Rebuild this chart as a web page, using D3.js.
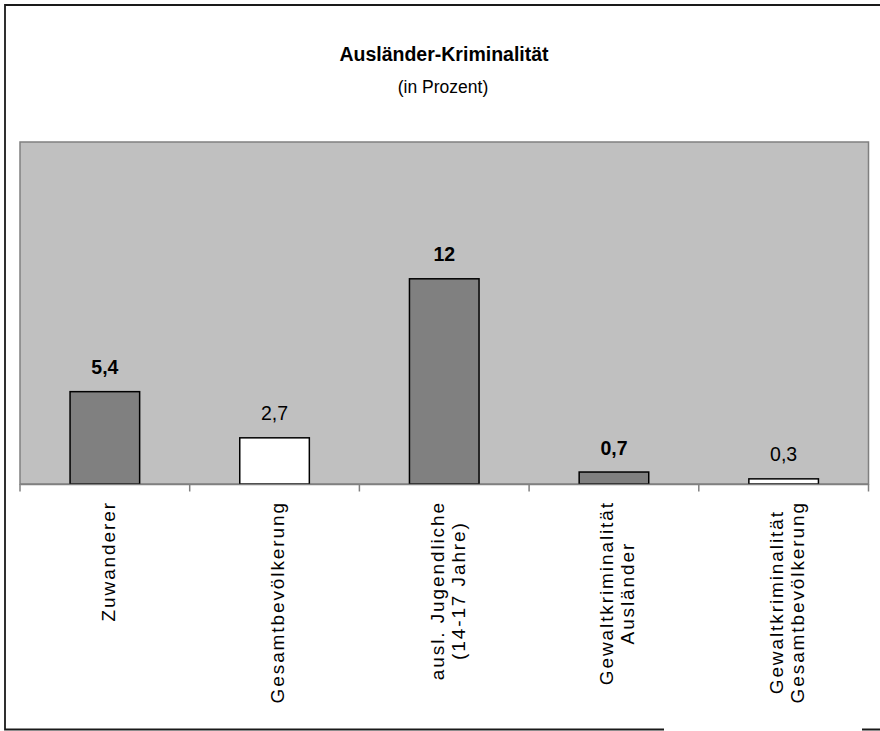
<!DOCTYPE html>
<html>
<head>
<meta charset="utf-8">
<script src="https://cdn.jsdelivr.net/npm/d3@7"></script>
<style>
    html, body { margin: 0; padding: 0; background: #fff; }
    text { font-family: "Liberation Sans", Arial, sans-serif; }
</style>
</head>
<body>
<div id="chart"></div>
<script>
// data
const categories = ['Zuwanderer', 'Gesamtbevölkerung', 'ausl. Jugendliche', 'Gewaltkriminalität Ausländer', 'Gewaltkriminalität Gesamtbevölkerung'];
const categoryLines = [
    ['Zuwanderer'],
    ['Gesamtbevölkerung'],
    ['ausl. Jugendliche', '(14-17 Jahre)'],
    ['Gewaltkriminalität', 'Ausländer'],
    ['Gewaltkriminalität', 'Gesamtbevölkerung']
];
const values = [5.4, 2.7, 12, 0.7, 0.3];
const valueLabels = ['5,4', '2,7', '12', '0,7', '0,3'];
const isForeign = [true, false, true, true, false];  // dark bar + bold label
const yDomain = [0, 20];

const width = 880;
const height = 731;

const svg = d3.select('#chart')
    .append('svg')
    .attr('width', width)
    .attr('height', height);

// outer frame (right side runs off the page, bottom is cut by a hidden footnote)
svg.append('path')
    .attr('d', 'M 900 5 L 5 5 L 5 729.5 L 664 729.5 M 862 729.5 L 900 729.5')
    .attr('fill', 'none')
    .attr('stroke', '#1a1a1a')
    .attr('stroke-width', 1.8);

svg.append('text')
    .attr('x', 444)
    .attr('y', 61)
    .attr('text-anchor', 'middle')
    .style('font-size', '19.5px')
    .style('font-weight', 'bold')
    .text('Ausländer-Kriminalität');

svg.append('text')
    .attr('x', 443)
    .attr('y', 93)
    .attr('text-anchor', 'middle')
    .style('font-size', '17.5px')
    .text('(in Prozent)');

const plot = { left: 20, right: 868.5, top: 142, bottom: 484 };

const xScale = d3.scaleBand()
    .domain(categories)
    .range([plot.left, plot.right]);

const yScale = d3.scaleLinear()
    .domain(yDomain)
    .range([plot.bottom, plot.top]);

// grey plot area
svg.append('rect')
    .attr('x', plot.left)
    .attr('y', plot.top)
    .attr('width', plot.right - plot.left)
    .attr('height', plot.bottom - plot.top)
    .attr('fill', '#c0c0c0')
    .attr('stroke', '#808080')
    .attr('stroke-width', 1.5);

const barW = xScale.bandwidth() * 0.41;

svg.selectAll('.bar')
    .data(values)
    .enter()
    .append('rect')
    .classed('bar', true)
    .attr('x', (d, i) => xScale(categories[i]) + xScale.bandwidth() / 2 - barW / 2)
    .attr('y', d => yScale(d))
    .attr('width', barW)
    .attr('height', d => yScale(0) - yScale(d))
    .attr('fill', (d, i) => isForeign[i] ? '#808080' : '#ffffff')
    .attr('stroke', '#000')
    .attr('stroke-width', 1.5);

svg.selectAll('.bar-label')
    .data(values)
    .enter()
    .append('text')
    .classed('bar-label', true)
    .attr('x', (d, i) => xScale(categories[i]) + xScale.bandwidth() / 2)
    .attr('y', d => yScale(d) - 17.5)
    .attr('text-anchor', 'middle')
    .style('font-size', '19.5px')
    .style('font-weight', (d, i) => isForeign[i] ? 'bold' : 'normal')
    .text((d, i) => valueLabels[i]);

// category axis, ticks between the bars
const xAxis = d3.axisBottom(xScale)
    .tickValues([])
    .tickSizeOuter(0);

const axisG = svg.append('g')
    .attr('transform', `translate(0,${plot.bottom})`)
    .call(xAxis);
axisG.select('.domain').attr('stroke', '#808080').attr('stroke-width', 1.5);

const tickX = categories.map(c => xScale(c)).concat([plot.right]);
axisG.selectAll('.sep')
    .data(tickX)
    .enter()
    .append('line')
    .attr('x1', d => d)
    .attr('x2', d => d)
    .attr('y1', 0)
    .attr('y2', 7.5)
    .attr('stroke', '#808080')
    .attr('stroke-width', 1.5);

// rotated labels: lines centred on each other, block hangs from the axis
const lineH = 21;
const spacing = 1.9;
categoryLines.forEach((lines, i) => {
    const cx = xScale(categories[i]) + xScale.bandwidth() / 2 + 3;
    const g = svg.append('g')
        .attr('transform', `translate(${cx},502) rotate(-90)`);
    const texts = g.selectAll('text')
        .data(lines)
        .enter()
        .append('text')
        .attr('y', (d, j) => 6.8 + (j - (lines.length - 1) / 2) * lineH)
        .attr('text-anchor', 'middle')
        .style('font-size', '19px')
        .style('letter-spacing', spacing + 'px')
        .text(d => d);
    let maxLen = 0;
    texts.each(function() { maxLen = Math.max(maxLen, this.getComputedTextLength()); });
    texts.attr('x', -maxLen / 2 + spacing / 2);
});
</script>
</body>
</html>
